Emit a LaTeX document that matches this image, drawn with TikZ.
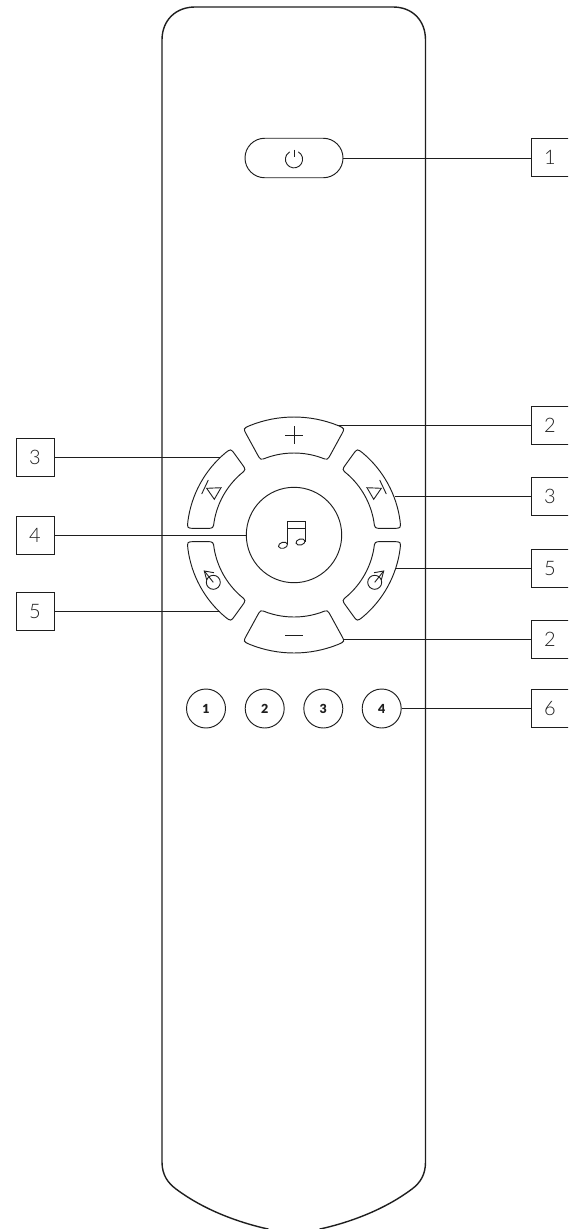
\documentclass[tikz,border=0pt]{standalone}
\usepackage{fontspec}
\usepackage{tikz}
\usetikzlibrary{calc}
\setmainfont{Lato Light}
\newfontfamily\numfont{Lato Black}
\definecolor{inkcol}{HTML}{1E1E1E}

\tikzset{
  bodyline/.style={draw=inkcol, line width=1.4pt},
  btnline/.style={draw=inkcol, line width=0.95pt},
  iconline/.style={draw=inkcol, line width=0.9pt},
  leader/.style={draw=inkcol, line width=1pt},
  labelbox/.style={draw=inkcol, line width=0.95pt, minimum width=38pt, minimum height=38pt,
    inner sep=0pt, font=\fontsize{20}{20}\selectfont, text=inkcol},
  numbtn/.style={btnline, circle, minimum size=39pt, inner sep=0pt,
    font=\numfont\fontsize{12.5}{12.5}\selectfont, text=inkcol}
}

% wheel button: outer angles #1,#2 at radius #5, inner angles #3,#4 at radius #6
\newcommand{\wheelbtn}[6]{
  \draw[btnline] ({#1+400/#5}:#5) arc[start angle={#1+400/#5}, end angle={#2-400/#5}, radius=#5]
    .. controls (#2:#5) .. ($(#2:#5)!7pt!(#4:#6)$) -- ($(#4:#6)!7pt!(#2:#5)$)
    .. controls (#4:#6) .. ({#4-400/#6}:#6) arc[start angle={#4-400/#6}, end angle={#3+400/#6}, radius=#6]
    .. controls (#3:#6) .. ($(#3:#6)!7pt!(#1:#5)$) -- ($(#1:#5)!7pt!(#3:#6)$)
    .. controls (#1:#5) .. cycle;
}

\begin{document}
\begin{tikzpicture}[x=1pt, y=-1pt]
  \useasboundingbox (0,0) rectangle (568,1229);
  \clip (0,0) rectangle (568,1229);

  % remote body
  \draw[bodyline] (162,40) .. controls (162,20) and (176,7) .. (195,7) -- (393,7)
    .. controls (412,7) and (425.5,20) .. (425.5,40) -- (425.5,1162)
    .. controls (425.5,1175) and (420,1183) .. (412,1189)
    .. controls (388,1207) and (356,1221) .. (320,1229) -- (320,1240) -- (268,1240) -- (268,1229)
    .. controls (232,1221) and (200,1207) .. (176,1189)
    .. controls (168,1183) and (162,1175) .. (162,1162) -- cycle;

  % power button
  \node[btnline, minimum width=98pt, minimum height=39.5pt, rounded corners=19.7pt] (power) at (294,158) {};
  \draw[iconline] (298.3,151.85) arc[start angle=-60, end angle=240, radius=8.6];
  \draw[iconline] (294,149.5) -- (294,157);

  % wheel buttons
  \begin{scope}[shift={(294,535)}, yscale=-1]
    \wheelbtn{64.5}{115.5}{65.9}{114.1}{118}{82}
    \wheelbtn{244.5}{295.5}{245.9}{294.1}{118}{82}
    \wheelbtn{126.2}{176.4}{126.3}{175.3}{107}{81}
    \wheelbtn{183.6}{233.8}{184.7}{233.7}{107}{81}
    \wheelbtn{3.6}{53.8}{4.7}{53.7}{107}{81}
    \wheelbtn{-53.8}{-3.6}{-53.7}{-4.7}{107}{81}
  \end{scope}
  \node[btnline, circle, minimum size=95.4pt, inner sep=0pt] (music) at (294,535) {};

  % plus and minus
  \draw[iconline] (285,435) -- (303,435) (294,426) -- (294,444);
  \draw[iconline] (285,635) -- (302.5,635);

  % previous, next
  \draw[iconline] (208.3,480) -- (201.7,494);
  \draw[iconline] (206.7,488.3) -- (221,487.7) -- (214.3,499.3) -- cycle;
  \draw[iconline] (379.7,480) -- (386.3,494);
  \draw[iconline] (381.3,488.3) -- (367,487.7) -- (373.7,499.3) -- cycle;

  % dials
  \draw[iconline] (213.3,582.3) circle [radius=7];
  \draw[iconline] (213.3,582.3) -- (204.3,571);
  \draw[iconline] (214,572.7) -- (204.3,571) -- (206.7,580);
  \draw[iconline] (374.7,582.3) circle [radius=7];
  \draw[iconline] (374.7,582.3) -- (383.7,571);
  \draw[iconline] (374,572.7) -- (383.7,571) -- (381.3,580);

  % notes
  \draw[iconline] (287.3,544) -- (287.3,521.7) -- (305,521.7) -- (305,541.7);
  \draw[iconline] (287.3,528.3) -- (305,528.3);
  \draw[iconline, rotate around={15:(283,545.3)}] (283,545.3) ellipse [x radius=4.6, y radius=3];
  \draw[iconline, rotate around={15:(300.5,542)}] (300.5,542) ellipse [x radius=4.6, y radius=3];

  % source buttons
  \foreach \n/\xpos in {1/206,2/264.7,3/323.3,4/381.7}{
    \node[numbtn] (num\n) at (\xpos,708.5) {\n};
  }

  % label boxes
  \node[labelbox] (lab1) at (550,157) {1};
  \node[labelbox] (lab2a) at (550,425) {2};
  \node[labelbox] (lab3a) at (550,496) {3};
  \node[labelbox] (lab5a) at (550,568) {5};
  \node[labelbox] (lab2b) at (550,639) {2};
  \node[labelbox] (lab6) at (550,708.5) {6};
  \node[labelbox] (lab3b) at (35,457) {3};
  \node[labelbox] (lab4) at (35,535) {4};
  \node[labelbox] (lab5b) at (35,611) {5};

  % leader ends on the wheel buttons
  \coordinate (plusEnd) at (338,425);
  \coordinate (nextEnd) at (395,496);
  \coordinate (dialrEnd) at (396,568);
  \coordinate (minusEnd) at (344,639);
  \coordinate (prevEnd) at (220,457);
  \coordinate (diallEnd) at (220,611);

  % leaders
  \draw[leader] (power.east) -- (lab1.west |- power.east);
  \draw[leader] (plusEnd) -- (lab2a.west);
  \draw[leader] (nextEnd) -- (lab3a.west);
  \draw[leader] (dialrEnd) -- (lab5a.west);
  \draw[leader] (minusEnd) -- (lab2b.west);
  \draw[leader] (num4.east) -- (lab6.west);
  \draw[leader] (prevEnd) -- (lab3b.east);
  \draw[leader] (music.west) -- (lab4.east);
  \draw[leader] (diallEnd) -- (lab5b.east);
\end{tikzpicture}
\end{document}
